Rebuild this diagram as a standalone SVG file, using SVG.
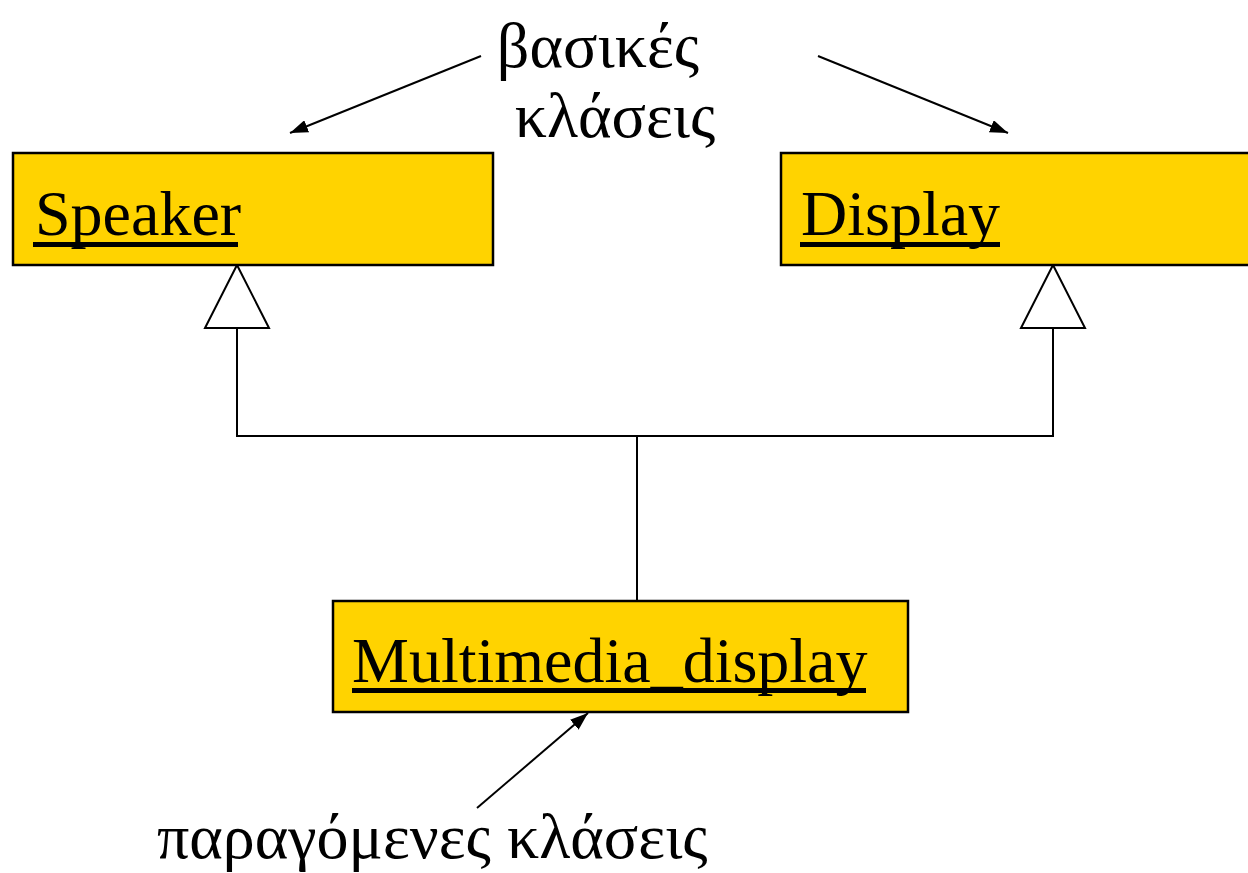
<svg xmlns="http://www.w3.org/2000/svg" width="1248" height="873" viewBox="0 0 1248 873">
<defs>
<style>
.box{fill:#FFD300;stroke:#000;stroke-width:2.5}
.lbl{font-family:"Liberation Serif","Times New Roman",serif;font-size:64px;fill:#000}
.gr{font-family:"Liberation Serif","Times New Roman",serif;font-size:64px;fill:#000}
.ul{fill:#000}
.ln{fill:none;stroke:#000;stroke-width:2}
.tri{fill:#fff;stroke:#000;stroke-width:2}
</style>
<marker id="ah2" viewBox="0 0 10 10" refX="10" refY="5" markerWidth="18" markerHeight="13" markerUnits="userSpaceOnUse" orient="auto" preserveAspectRatio="none">
<path d="M0,0 L10,5 L0,10 z" fill="#000"/>
</marker>
</defs>
<rect width="1248" height="873" fill="#fff"/>
<g id="connectors">
<polyline class="ln" points="237,328 237,436 1053,436 1053,328"/>
<line class="ln" x1="637" y1="436" x2="637" y2="601"/>
<polygon class="tri" points="237,265 205,328 269,328"/>
<polygon class="tri" points="1053,265 1021,328 1085,328"/>
<line class="ln" x1="481" y1="56" x2="290" y2="133" marker-end="url(#ah2)"/>
<line class="ln" x1="818" y1="56" x2="1008" y2="133" marker-end="url(#ah2)"/>
<line class="ln" x1="477" y1="808" x2="588" y2="713" marker-end="url(#ah2)"/>
</g>
<g id="speaker">
<rect class="box" x="13" y="153" width="480" height="112"/>
<text class="lbl" x="35" y="235">Speaker</text>
<rect class="ul" x="33" y="242" width="205" height="5"/>
</g>
<g id="display">
<rect class="box" x="781" y="153" width="480" height="112"/>
<text class="lbl" x="801" y="235">Display</text>
<rect class="ul" x="800" y="242" width="200" height="5"/>
</g>
<g id="multimedia_display">
<rect class="box" x="333" y="601" width="575" height="111"/>
<text class="lbl" x="352" y="682">Multimedia_display</text>
<rect class="ul" x="352" y="688" width="514" height="5"/>
</g>
<g id="labels">
<text class="gr" x="598" y="67" text-anchor="middle">βασικές</text>
<text class="gr" x="615" y="137" text-anchor="middle">κλάσεις</text>
<text class="gr" x="157" y="858">παραγόμενες κλάσεις</text>
</g>
</svg>
